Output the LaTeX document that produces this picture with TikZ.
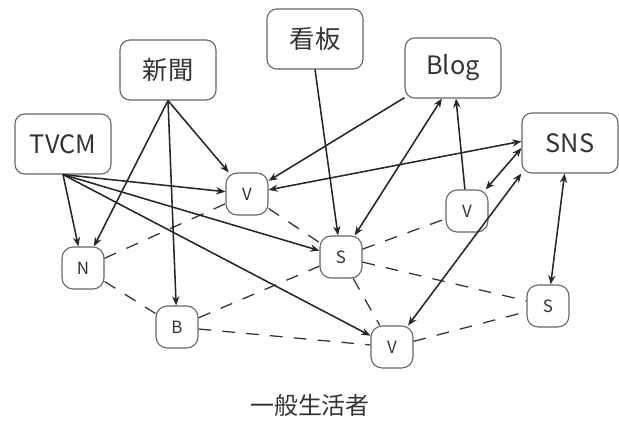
\documentclass[tikz,border=0pt]{standalone}
\usepackage{fontspec}
\setmainfont{Noto Sans CJK JP}
\usetikzlibrary{arrows.meta}

\begin{document}
\begin{tikzpicture}[x=0.025cm, y=-0.025cm,
  >={Stealth[length=2.3mm,width=1.8mm]},
  media/.style={draw=black!60, line width=0.8pt, rounded corners=7pt,
    minimum width=2.4cm, minimum height=1.5cm, text=black!80,
    font=\fontsize{18}{20}\selectfont},
  user/.style={draw=black!60, line width=0.8pt, rounded corners=8pt,
    minimum size=1.05cm, inner sep=0pt, text=black!80,
    font=\fontsize{12}{14}\selectfont},
  link/.style={line width=1.1pt, black!85},
  weak/.style={line width=0.9pt, black!80, dash pattern=on 9pt off 8pt}]

  \useasboundingbox (0,0) rectangle (619,425);

  % Media
  \node[media] (tvcm)  at (63,144)  {TVCM};
  \node[media] (paper) at (168,70)  {新聞};
  \node[media] (sign)  at (315,39)  {看板};
  \node[media] (blog)  at (453,68)  {Blog};
  \node[media] (sns)   at (570,143) {SNS};

  % Consumers
  \node[user] (v1) at (247,194) {V};
  \node[user] (n)  at (83,268)  {N};
  \node[user] (b)  at (177,327) {B};
  \node[user] (s1) at (341,257) {S};
  \node[user] (v2) at (467,211) {V};
  \node[user] (s2) at (548,306) {S};
  \node[user] (v3) at (392,347) {V};

  \node[font=\fontsize{17}{19}\selectfont, text=black!80] (crowd) at (310,405) {一般生活者};

  % Weak ties between consumers
  \draw[weak] (n) -- (v1);
  \draw[weak] (n) -- (b);
  \draw[weak] (b) -- (s1);
  \draw[weak] (b) -- (v3);
  \draw[weak] (v1) -- (s1);
  \draw[weak] (s1) -- (v2);
  \draw[weak] (s1) -- (s2);
  \draw[weak] (s1) -- (v3);
  \draw[weak] (v3) -- (s2);

  % TVCM
  \draw[link, ->] (tvcm.south) -- (n);
  \draw[link, ->] (tvcm.south) -- (v1);
  \draw[link, ->] (tvcm.south) -- (s1);
  \draw[link, ->] (tvcm.south) -- (v3);

  % Newspaper
  \draw[link, ->] (paper.south) -- (n);
  \draw[link, ->] (paper.south) -- (b);
  \draw[link, ->] (paper.south) -- (v1);

  % Signboard
  \draw[link, ->] (sign.south) -- (s1);

  % Blog
  \draw[link, ->] (blog) -- (v1);
  \draw[link, <->] (blog.-110) -- (s1);
  \draw[link, ->] (v2) -- (blog);

  % SNS
  \draw[link, <->] (v1) -- (sns.178);
  \draw[link, <->] (v2) -- (sns.186);
  \draw[link, <->] (v3) -- (sns.south west);
  \draw[link, <->] (sns.-100) -- (s2);

\end{tikzpicture}
\end{document}
